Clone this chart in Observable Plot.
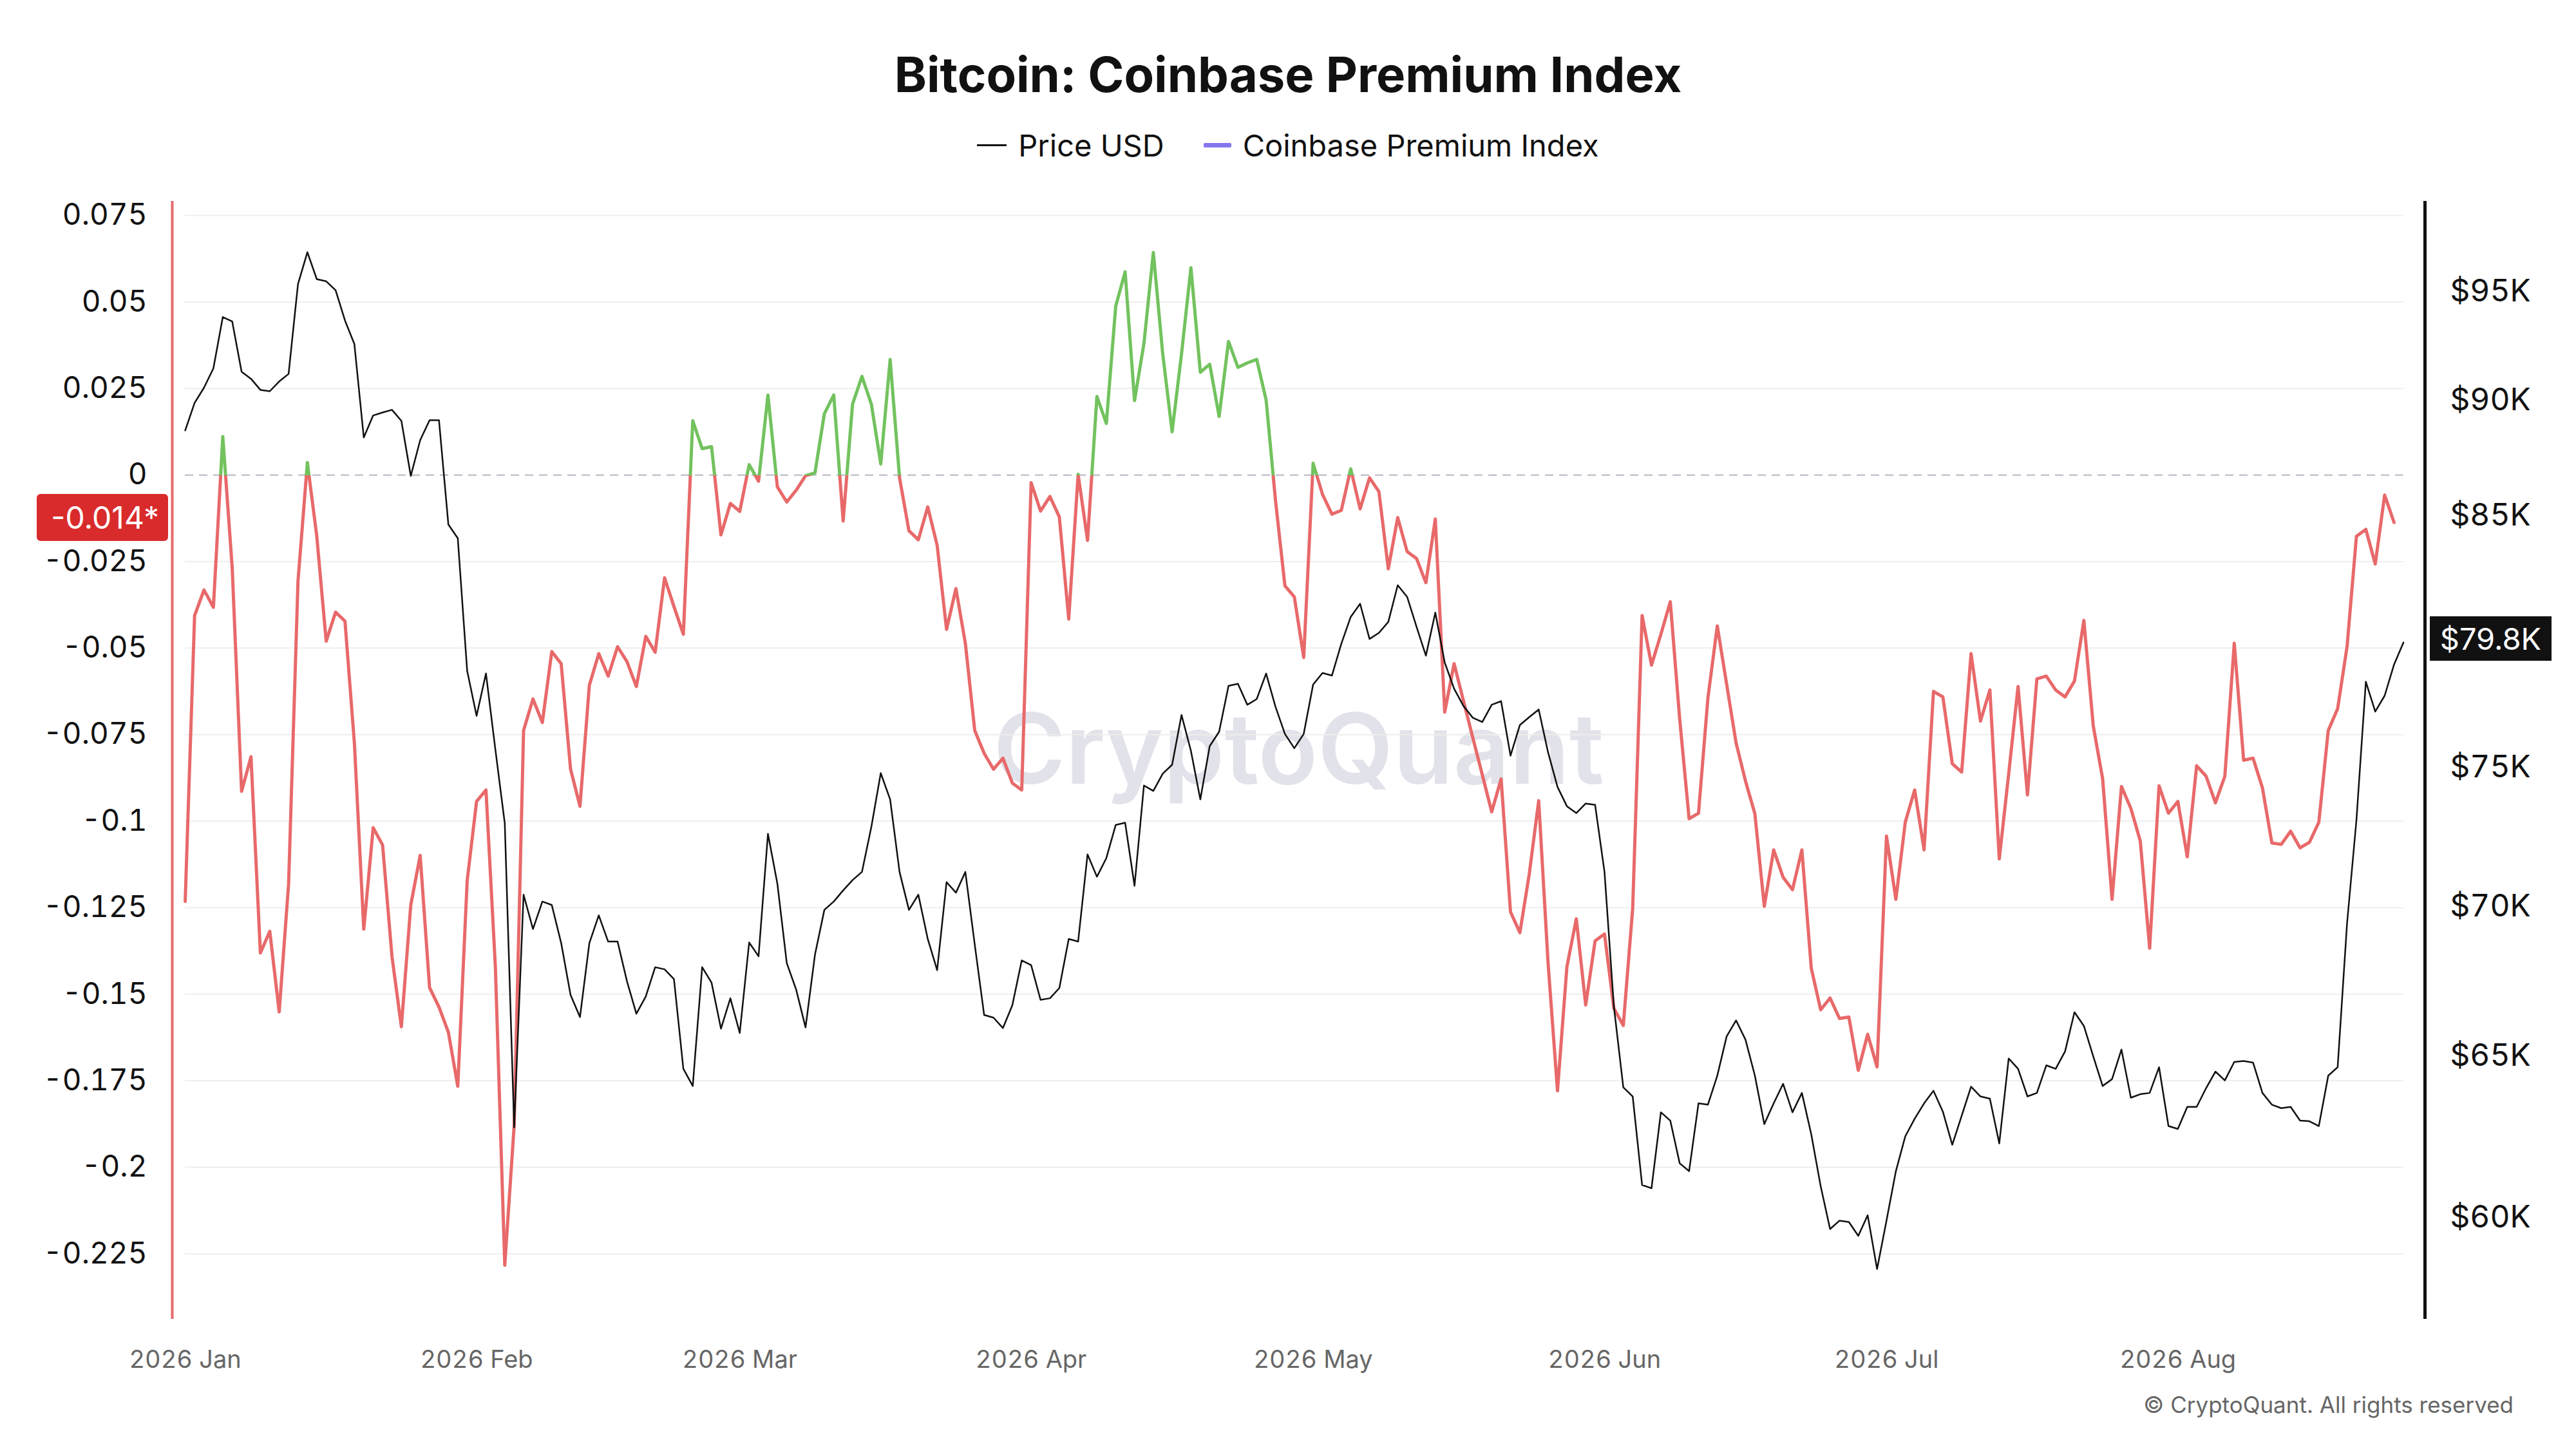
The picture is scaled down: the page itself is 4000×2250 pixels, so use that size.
<!DOCTYPE html>
<html>
<head>
<meta charset="utf-8">
<script src="https://cdn.jsdelivr.net/npm/d3@7"></script>
<script src="https://cdn.jsdelivr.net/npm/@observablehq/plot@0.6"></script>
<style>
  html, body { margin: 0; padding: 0; background: #fff; }
  body { width: 4000px; height: 2250px; position: relative; overflow: hidden; font-family: Inter, "Noto Sans", sans-serif; color: #111; }
  #header { position: relative; width: 4000px; height: 250px; }
  #title { position: absolute; left: 0; width: 4000px; top: 77px; line-height: 76px; text-align: center; font-weight: 700; font-size: 76px; color: #111; }
  #legend { position: absolute; left: 0; width: 4000px; top: 200px; height: 50px; display: flex; justify-content: center; align-items: center; font-size: 47px; color: #111; }
  .item { display: flex; align-items: center; }
  .sw { display: inline-block; width: 46px; margin-right: 18px; }
  #chart { position: relative; width: 4000px; height: 2000px; }
  #chart svg { position: absolute; left: 0; top: 0; }
  .badge { position: absolute; color: #fff; font-size: 48px; display: flex; align-items: center; box-sizing: border-box; }
  #footer { position: absolute; right: 97px; top: 2164px; font-size: 35px; line-height: 35px; color: #666; }
</style>
</head>
<body>
<div id="header">
  <div id="title">Bitcoin: Coinbase Premium Index</div>
  <div id="legend">
    <div class="item"><span class="sw" style="height:3px;background:#111"></span><span>Price USD</span></div>
    <div class="item" style="margin-left:61px"><span class="sw" style="width:43px;height:7px;background:#8577ee;border-radius:2px"></span><span>Coinbase Premium Index</span></div>
  </div>
</div>
<div id="chart"></div>
<div id="footer">© CryptoQuant. All rights reserved</div>
<script>
// ---- Data (daily, 2026-01-01 onward) ----
const startDate = new Date(Date.UTC(2026, 0, 1));

// Coinbase Premium Index (Jan 1 .. Aug 24)
const premium = [
 -0.1232,-0.0406,-0.0332,-0.0382,0.0111,-0.0267,-0.0914,-0.0814,-0.1381,-0.1318,
 -0.1551,-0.1182,-0.0307,0.0036,-0.0177,-0.0480,-0.0396,-0.0422,-0.0774,-0.1312,
 -0.1019,-0.1069,-0.1391,-0.1594,-0.1242,-0.1099,-0.1481,-0.1537,-0.1610,-0.1766,
 -0.1172,-0.0943,-0.0910,-0.1421,-0.2283,-0.1879,-0.0738,-0.0647,-0.0715,-0.0510,
 -0.0545,-0.0850,-0.0957,-0.0607,-0.0516,-0.0581,-0.0496,-0.0539,-0.0611,-0.0466,
 -0.0512,-0.0297,-0.0380,-0.0460,0.0157,0.0076,0.0082,-0.0173,-0.0082,-0.0105,
 0.0030,-0.0018,0.0231,-0.0034,-0.0078,-0.0044,-0.0002,0.0006,0.0177,0.0231,
 -0.0133,0.0205,0.0285,0.0205,0.0032,0.0334,-0.0008,-0.0161,-0.0187,-0.0092,
 -0.0203,-0.0446,-0.0328,-0.0486,-0.0738,-0.0804,-0.0850,-0.0818,-0.0890,-0.0910,
 -0.0022,-0.0104,-0.0062,-0.0121,-0.0416,0.0002,-0.0189,0.0227,0.0149,0.0488,
 0.0587,0.0215,0.0380,0.0643,0.0350,0.0125,0.0350,0.0599,0.0297,0.0320,
 0.0169,0.0386,0.0311,0.0324,0.0334,0.0217,-0.0074,-0.0320,-0.0352,-0.0527,
 0.0034,-0.0056,-0.0113,-0.0102,0.0018,-0.0098,-0.0008,-0.0048,-0.0271,-0.0123,
 -0.0221,-0.0241,-0.0311,-0.0127,-0.0685,-0.0545,-0.0653,-0.0760,-0.0866,-0.0973,
 -0.0878,-0.1262,-0.1322,-0.1152,-0.0941,-0.1411,-0.1779,-0.1421,-0.1282,-0.1531,
 -0.1346,-0.1326,-0.1541,-0.1590,-0.1252,-0.0406,-0.0549,-0.0460,-0.0366,-0.0705,
 -0.0993,-0.0977,-0.0645,-0.0436,-0.0605,-0.0774,-0.0884,-0.0979,-0.1246,-0.1083,
 -0.1162,-0.1198,-0.1083,-0.1425,-0.1545,-0.1511,-0.1570,-0.1566,-0.1720,-0.1616,
 -0.1710,-0.1043,-0.1226,-0.1003,-0.0910,-0.1083,-0.0625,-0.0641,-0.0834,-0.0858,
 -0.0516,-0.0711,-0.0621,-0.1109,-0.0864,-0.0611,-0.0924,-0.0589,-0.0581,-0.0621,
 -0.0641,-0.0595,-0.0420,-0.0725,-0.0878,-0.1226,-0.0900,-0.0963,-0.1057,-0.1367,
 -0.0898,-0.0977,-0.0943,-0.1103,-0.0840,-0.0870,-0.0947,-0.0870,-0.0486,-0.0824,
 -0.0818,-0.0904,-0.1063,-0.1067,-0.1029,-0.1077,-0.1061,-0.1003,-0.0738,-0.0675,
 -0.0496,-0.0177,-0.0157,-0.0257,-0.0058,-0.0137
];

// Price USD in thousands (Jan 1 .. Aug 25)
const priceK = [
 88.67,89.89,90.57,91.44,93.80,93.60,91.29,90.97,90.47,90.41,
 90.85,91.19,95.35,96.87,95.58,95.48,95.06,93.64,92.55,88.36,
 89.33,89.46,89.58,89.09,86.69,88.24,89.12,89.12,84.62,84.05,
 78.69,76.96,78.59,75.68,72.96,62.74,70.42,69.23,70.18,70.06,
 68.75,67.00,66.27,68.75,69.70,68.80,68.80,67.46,66.38,66.95,
 67.93,67.86,67.53,64.59,64.04,67.93,67.41,65.89,66.89,65.75,
 68.77,68.30,72.58,70.81,68.07,67.18,65.93,68.35,69.89,70.18,
 70.57,70.93,71.22,72.83,74.80,73.83,71.22,69.89,70.42,68.89,
 67.83,70.86,70.49,71.22,68.70,66.34,66.25,65.91,66.66,68.16,
 68.00,66.84,66.89,67.23,68.89,68.80,71.84,71.05,71.71,72.90,
 72.98,70.73,74.34,74.14,74.78,75.11,76.99,75.63,73.83,75.81,
 76.35,78.11,78.19,77.38,77.60,78.59,77.30,76.27,75.73,76.27,
 78.16,78.61,78.51,79.76,80.83,81.36,79.95,80.19,80.63,82.11,
 81.64,80.44,79.29,81.00,79.02,78.00,77.33,76.88,76.72,77.38,
 77.52,75.45,76.61,76.91,77.20,75.57,74.29,73.58,73.33,73.68,
 73.63,71.22,66.61,64.00,63.71,60.97,60.87,63.21,62.95,61.63,
 61.39,63.49,63.45,64.37,65.64,66.16,65.53,64.37,62.84,63.49,
 64.11,63.21,63.82,62.52,60.93,59.65,59.90,59.86,59.45,60.06,
 58.48,59.90,61.39,62.46,63.01,63.49,63.89,63.23,62.20,63.10,
 64.02,63.71,63.64,62.24,64.92,64.59,63.71,63.82,64.70,64.59,
 65.15,66.43,65.98,64.99,64.04,64.26,65.21,63.67,63.78,63.82,
 64.64,62.78,62.69,63.38,63.38,63.97,64.50,64.22,64.81,64.84,
 64.79,63.82,63.45,63.34,63.38,62.95,62.93,62.78,64.37,64.64,
 69.42,73.08,78.27,77.12,77.73,78.94,79.81
];

// Tick values
const premiumTicks = [0.075, 0.05, 0.025, 0, -0.025, -0.05, -0.075, -0.1, -0.125, -0.15, -0.175, -0.2, -0.225];
const priceTicks = [60, 65, 70, 75, 85, 90, 95];
const monthTicks = d3.utcMonth.range(new Date(Date.UTC(2026, 0, 1)), new Date(Date.UTC(2026, 8, 1)));

// ---- Build tables ----
const dates = d3.utcDay.range(startDate, d3.utcDay.offset(startDate, priceK.length));
const premiumData = premium.map((v, i) => ({date: dates[i], value: v}));
const priceData = priceK.map((v, i) => ({date: dates[i], value: v}));
const firstDate = dates[0], lastDate = dates[dates.length - 1];

// ---- Layout / style ----
const RED = "#e8696a", GREEN = "#72c25e";
const W = 4000, H = 2000;
const margins = {marginTop: 62, marginBottom: 202, marginLeft: 267, marginRight: 235};
const xDomain = [new Date(Date.UTC(2025, 11, 30, 15)), new Date(Date.UTC(2026, 7, 27, 7))];
const fmtPrem = d => d === 0 ? "0" : String(+d.toFixed(3));

const plotA = Plot.plot({
  width: W, height: H, ...margins,
  style: {fontFamily: "Inter, 'Noto Sans', sans-serif", background: "transparent", overflow: "visible"},
  x: {type: "utc", domain: xDomain},
  y: {domain: [-0.2439, 0.0791]},
  marks: [
    Plot.text(["CryptoQuant"], {frameAnchor: "middle", text: d => d, fontSize: 152, fontWeight: 600, fill: "#e2e2ea", dy: -12}),
    Plot.ruleY(premiumTicks.filter(t => t !== 0), {y: d => d, x1: () => firstDate, x2: () => lastDate, stroke: "#eeeeee", strokeWidth: 2}),
    Plot.ruleY([0], {y: d => d, x1: () => firstDate, x2: () => lastDate, stroke: "#c3c3cf", strokeWidth: 2.5, strokeDasharray: "13,9"}),
    Plot.line(premiumData, {x: "date", y: "value", stroke: "url(#premGrad)", strokeWidth: 5, strokeLinejoin: "round"}),
    Plot.ruleX([xDomain[0]], {x: d => d, stroke: RED, strokeWidth: 4}),
    Plot.axisY({anchor: "left", label: null, ticks: premiumTicks, tickFormat: fmtPrem, tickSize: 0, tickPadding: 39, fontSize: 46, fill: "#111"}),
    Plot.axisX({label: null, ticks: monthTicks, tickFormat: d3.utcFormat("%Y %b"), tickSize: 0, tickPadding: 49, fontSize: 38, fill: "#666"})
  ]
});

const plotB = Plot.plot({
  width: W, height: H, ...margins,
  style: {fontFamily: "Inter, 'Noto Sans', sans-serif", background: "transparent", overflow: "visible"},
  x: {type: "utc", domain: xDomain, axis: null},
  y: {type: "log", domain: [57.04, 99.35]},
  marks: [
    Plot.line(priceData, {x: "date", y: "value", stroke: "#111", strokeWidth: 2.5, strokeLinejoin: "round"}),
    Plot.ruleX([xDomain[1]], {x: d => d, stroke: "#111", strokeWidth: 5}),
    Plot.axisY({anchor: "right", label: null, ticks: priceTicks, tickFormat: d => `$${d}K`, tickSize: 0, tickPadding: 39, fontSize: 48, fill: "#111"})
  ]
});

// Gradient that switches colour exactly at premium = 0 (position from the plot's y scale)
const y0 = plotA.scale("y").apply(0);
const NS = "http://www.w3.org/2000/svg";
const defs = document.createElementNS(NS, "defs");
defs.innerHTML = `<linearGradient id="premGrad" gradientUnits="userSpaceOnUse" x1="0" x2="0" y1="${y0 - 0.5}" y2="${y0 + 0.5}">
  <stop offset="0.5" stop-color="${GREEN}"/><stop offset="0.5" stop-color="${RED}"/></linearGradient>`;
plotA.insertBefore(defs, plotA.firstChild);

const chart = document.getElementById("chart");
chart.appendChild(plotA);
chart.appendChild(plotB);

// Last-value badges, positioned with the plots' own scales
const lastPrem = premium[premium.length - 1];
const lastPrice = priceK[priceK.length - 1];
const yPrem = plotA.scale("y").apply(lastPrem);
const yPrice = plotB.scale("y").apply(lastPrice);

const b1 = document.createElement("div");
b1.className = "badge";
b1.textContent = lastPrem.toFixed(3) + "*";
Object.assign(b1.style, {left: "57px", width: "204px", height: "73px", top: (yPrem - 44) + "px", background: "#d92b2b", borderRadius: "6px", justifyContent: "flex-end", paddingRight: "14px"});
chart.appendChild(b1);

const b2 = document.createElement("div");
b2.className = "badge";
b2.textContent = "$" + lastPrice.toFixed(1) + "K";
Object.assign(b2.style, {left: "3773px", width: "189px", height: "69px", top: (yPrice - 40) + "px", background: "#111", justifyContent: "center", fontSize: "47px"});
chart.appendChild(b2);
</script>
</body>
</html>
